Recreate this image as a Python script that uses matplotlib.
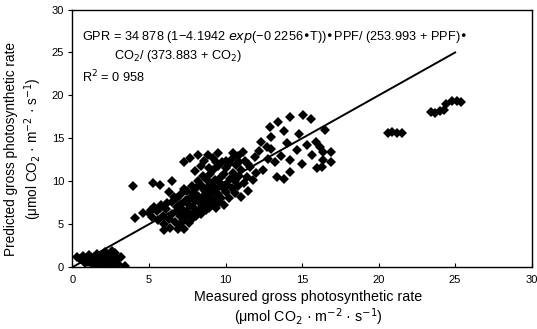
import matplotlib
matplotlib.use("Agg")
import matplotlib.pyplot as plt

plt.rcParams['font.family'] = ['Liberation Sans', 'DejaVu Sans']

# ---- data ----
low_x = [0.3, 0.5, 0.7, 0.9, 1.0, 1.1, 1.2, 1.3, 1.4, 1.5, 1.6, 1.7, 1.8, 1.9, 2.0, 2.0, 2.1,
         2.2, 2.3, 2.4, 2.5, 2.5, 2.6, 2.7, 2.8, 2.9, 3.0, 3.2, 2.2, 1.5, 0.8, 2.6, 3.4]
low_y = [1.2, 1.0, 1.3, 1.1, 0.6, 1.4, 0.9, 0.4, 1.2, 0.8, 1.5, 0.3, 1.0, 0.6, 1.3, 0.2, 1.8,
         0.9, 0.5, 1.4, 0.1, 1.1, 0.7, 0.3, 1.6, 0.9, 0.4, 1.2, 1.6, 0.2, 0.5, 1.9, 0.1]

mid_x = [4.07, 4.6, 5.16, 5.7, 3.96, 5.27, 5.71, 6.47, 6.8, 6.5,
         5.0, 5.2, 5.3, 5.5, 5.6, 5.8, 5.9, 6.0, 6.0, 6.1, 6.2, 6.3, 6.4, 6.5, 6.6, 6.7, 6.8, 6.9, 6.9, 6.3,
         7.0, 7.0, 7.1, 7.1, 7.2, 7.2, 7.3, 7.3, 7.4, 7.4, 7.5, 7.5, 7.6, 7.6, 7.7, 7.7, 7.8, 7.8, 7.9, 7.9,
         8.0, 8.0, 8.1, 8.1, 8.2, 8.2, 8.3, 8.3, 8.4, 8.4, 8.5, 8.5, 8.6, 8.6, 8.7, 8.7, 8.8, 8.8, 8.9, 8.9,
         9.0, 9.0, 9.1, 9.1, 9.2, 9.2, 9.3, 9.3, 9.4, 9.4, 9.5, 9.5, 9.6, 9.6, 9.7, 9.7, 9.8, 9.8, 9.9, 9.9,
         10.0, 10.0, 10.1, 10.2, 10.2, 10.3, 10.4, 10.4, 10.5, 10.6, 10.6, 10.7, 10.8, 10.8, 10.9,
         11.0, 11.0, 11.2, 11.3, 11.4, 11.5, 11.6, 11.8, 11.9, 12.0,
         7.67, 8.2, 8.86, 9.52, 10.5, 11.15, 7.3, 8.6, 9.2,
         8.0, 8.4, 8.9, 9.4, 10.0, 10.9, 11.5]
mid_y = [5.67, 6.26, 6.64, 6.84, 9.44, 9.75, 9.56, 10.0, 8.0, 7.6,
         6.3, 5.8, 7.0, 6.5, 5.5, 7.2, 6.0, 5.0, 4.3, 6.8, 7.5, 5.6, 4.6, 6.2, 8.2, 5.2, 7.0, 4.5, 6.5, 8.8,
         4.8, 6.0, 7.3, 8.5, 5.4, 6.7, 9.1, 4.5, 7.8, 5.9, 6.5, 8.9, 5.1, 7.2, 8.1, 6.1, 9.5, 5.6, 7.0, 8.6,
         6.4, 7.7, 9.2, 5.9, 8.3, 10.0, 6.8, 7.5, 9.6, 6.2, 8.0, 10.6, 7.1, 9.0, 6.6, 8.6, 10.2, 7.6, 9.4, 6.9,
         8.2, 10.8, 7.3, 9.7, 8.8, 11.3, 7.8, 10.1, 9.1, 6.9, 8.5, 11.8, 9.9, 7.6, 10.5, 8.1, 9.3, 12.2, 7.2, 10.9,
         8.8, 11.5, 9.6, 12.0, 8.0, 10.3, 9.2, 12.6, 11.0, 8.6, 10.0, 11.9, 9.4, 12.9, 10.6,
         8.2, 11.3, 9.8, 12.4, 10.5, 8.9, 11.7, 10.1, 12.8, 11.0,
         12.67, 13.05, 13.05, 13.3, 13.25, 13.4, 12.3, 12.4, 12.7,
         11.2, 11.8, 11.5, 12.2, 12.4, 12.2, 12.0]

up_x = [12.9, 13.44, 14.2, 15.07, 15.6, 16.5, 12.7, 13.0, 12.46, 13.33, 14.2, 14.2, 14.64, 15.3,
        16.16, 16.38, 15.62, 12.2, 13.6, 14.0, 13.2, 12.8, 14.8, 13.8, 15.0, 16.0, 16.3, 12.3, 13.0,
        16.9, 16.4, 15.9, 16.9, 13.8]
up_y = [16.35, 16.9, 17.5, 17.7, 17.3, 16.0, 14.0, 15.2, 11.3, 10.5, 11.1, 12.5, 13.6, 14.2,
        14.0, 12.5, 13.05, 13.5, 13.0, 14.5, 12.2, 12.6, 15.5, 15.8, 12.0, 11.6, 11.7, 14.6, 13.8,
        13.4, 13.4, 14.6, 12.3, 10.3]

far_x = [20.6, 20.9, 21.2, 21.5, 23.4, 23.7, 24.0, 24.3, 24.4, 24.8, 25.1, 25.4]
far_y = [15.6, 15.7, 15.6, 15.6, 18.1, 18.0, 18.2, 18.3, 19.0, 19.3, 19.3, 19.2]

line_x = [0, 25]
line_y = [0, 25]

xticks = [0, 5, 10, 15, 20, 25, 30]
yticks = [0, 5, 10, 15, 20, 25, 30]

# ---- figure ----
fig = plt.figure(figsize=(5.37, 3.29), dpi=100)
ax = fig.add_axes([0.135, 0.188, 0.855, 0.783])

for xs, ys in [(low_x, low_y), (mid_x, mid_y), (up_x, up_y), (far_x, far_y)]:
    ax.plot(xs, ys, 'D', color='black', markersize=4.9, markeredgewidth=0)

ax.plot(line_x, line_y, color='black', lw=1.4)

ax.set_xlim(0, 30)
ax.set_ylim(0, 30)
ax.set_xticks(xticks)
ax.set_yticks(yticks)
ax.tick_params(axis='x', direction='in', length=3, labelsize=8, pad=6)
ax.tick_params(axis='y', direction='out', length=3, labelsize=8, pad=3)
for s in ax.spines.values():
    s.set_linewidth(1.0)
    s.set_color('black')

ax.set_xlabel('Measured gross photosynthetic rate\n(μmol CO$_2$ · m$^{-2}$ · s$^{-1}$)',
              fontsize=10.3, linespacing=1.15)
ax.xaxis.set_label_coords(0.513, -0.088)
ax.set_ylabel('Predicted gross photosynthetic rate\n(μmol CO$_2$ · m$^{-2}$ · s$^{-1}$)',
              fontsize=9.8, linespacing=1.3)
ax.yaxis.set_label_coords(-0.062, 0.46)

ax.text(0.02, 0.895,
        'GPR = 34 878 (1−4.1942 $exp$(−0 2256•T))•PPF/ (253.993 + PPF)•',
        transform=ax.transAxes, fontsize=9.2, ha='left', va='center')
ax.text(0.09, 0.82, 'CO$_2$/ (373.883 + CO$_2$)',
        transform=ax.transAxes, fontsize=9.2, ha='left', va='center')
ax.text(0.02, 0.74, 'R$^2$ = 0 958',
        transform=ax.transAxes, fontsize=9.2, ha='left', va='center')

fig.savefig('out.png', dpi=100)
